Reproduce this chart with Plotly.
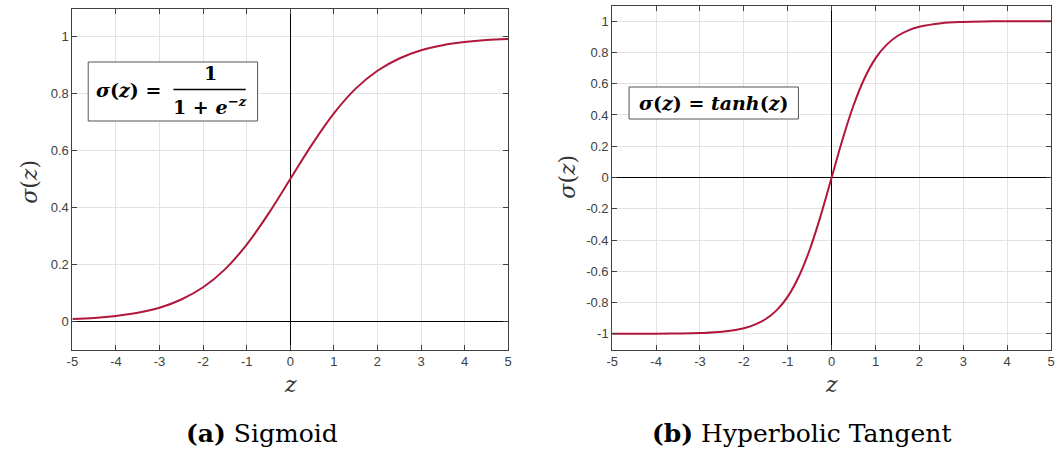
import plotly.graph_objects as go

# ---- data ----
z_sig = [-5, -4.5, -4, -3.5, -3, -2.5, -2, -1.5, -1, -0.5, 0, 0.5, 1, 1.5, 2, 2.5, 3, 3.5, 4, 4.5, 5]
sigmoid_vals = [0.007, 0.011, 0.018, 0.029, 0.047, 0.076, 0.119, 0.182, 0.269, 0.378, 0.5,
                0.622, 0.731, 0.818, 0.881, 0.924, 0.953, 0.971, 0.982, 0.989, 0.993]

z_tanh = [-5, -4, -3.5, -3, -2.5, -2, -1.75, -1.5, -1.25, -1, -0.75, -0.5, -0.25, 0,
          0.25, 0.5, 0.75, 1, 1.25, 1.5, 1.75, 2, 2.5, 3, 3.5, 4, 5]
tanh_vals = [-1.0, -0.999, -0.998, -0.995, -0.987, -0.964, -0.941, -0.905, -0.848, -0.762, -0.635, -0.462, -0.245, 0.0,
             0.245, 0.462, 0.635, 0.762, 0.848, 0.905, 0.941, 0.964, 0.987, 0.995, 0.998, 0.999, 1.0]

x_ticks = [-5, -4, -3, -2, -1, 0, 1, 2, 3, 4, 5]
y_ticks_sig = [0, 0.2, 0.4, 0.6, 0.8, 1]
y_ticks_tanh = [-1, -0.8, -0.6, -0.4, -0.2, 0, 0.2, 0.4, 0.6, 0.8, 1]

W, H = 1059, 450
def px(x): return x / W
def py(y): return 1 - y / H

LINE = "#b0173a"
SERIF = "DejaVu Serif"
SANS = "Liberation Sans"

fig = go.Figure()
fig.add_trace(go.Scatter(x=z_sig, y=sigmoid_vals, mode="lines", line=dict(color=LINE, width=2, shape="spline"),
                         xaxis="x", yaxis="y", showlegend=False))
fig.add_trace(go.Scatter(x=z_tanh, y=tanh_vals, mode="lines", line=dict(color=LINE, width=2, shape="spline"),
                         xaxis="x2", yaxis="y2", showlegend=False))

def xax(domain, anchor):
    return dict(domain=domain, anchor=anchor, range=[-5, 5], tickvals=x_ticks,
                ticktext=[str(t) for t in x_ticks], ticks="inside", ticklen=5, tickcolor="#404040",
                showline=True, linecolor="#404040", linewidth=1, mirror="ticks",
                showgrid=True, gridcolor="#e3e3e3", gridwidth=1,
                zeroline=True, zerolinecolor="black", zerolinewidth=1,
                tickfont=dict(family=SANS, size=13, color="#404040"))

def yax(domain, anchor, rng, ticks):
    return dict(domain=domain, anchor=anchor, range=rng, tickvals=ticks,
                ticktext=[("%g" % t) for t in ticks], ticks="inside", ticklen=5, tickcolor="#404040",
                showline=True, linecolor="#404040", linewidth=1, mirror="ticks",
                showgrid=True, gridcolor="#e3e3e3", gridwidth=1,
                zeroline=True, zerolinecolor="black", zerolinewidth=1,
                tickfont=dict(family=SANS, size=13, color="#404040"))

fig.update_layout(
    width=W, height=H, margin=dict(l=0, r=0, t=0, b=0),
    paper_bgcolor="white", plot_bgcolor="white",
    xaxis=xax([px(67), px(507)], "y"),
    yaxis=yax([py(349.5), py(8.5)], "x", [-0.1, 1.1], y_ticks_sig),
    xaxis2=xax([px(612), px(1055)], "y2"),
    yaxis2=yax([py(349.5), py(5.5)], "x2", [-1.1, 1.1], y_ticks_tanh),
)

ann = []
def text(x, y, s, size, family=SERIF, angle=0, color="black"):
    ann.append(dict(x=px(x), y=py(y), xref="paper", yref="paper", text=s, showarrow=False,
                    font=dict(family=family, size=size, color=color), textangle=angle,
                    xanchor="center", yanchor="middle"))

# axis titles
text(287, 384, "<i>z</i>", 22, color="#333333")
text(833, 384, "<i>z</i>", 22, color="#333333")
text(24, 182, "<i>σ</i>(<i>z</i>)", 22, angle=-90, color="#333333")
text(566, 177, "<i>σ</i>(<i>z</i>)", 22, angle=-90, color="#333333")

# captions
text(258, 433, "<b>(a)</b> Sigmoid", 25)
text(803, 433, "<b>(b)</b> Hyperbolic Tangent", 25)

# formula boxes
text(124, 90, "<b><i>σ</i>(<i>z</i>) =</b>", 19)
text(206, 73, "<b>1</b>", 19)
text(206, 106, "<b>1 + <i>e</i><sup>−<i>z</i></sup></b>", 19)
text(714, 103, "<b><i>σ</i>(<i>z</i>) = <i>tanh</i>(<i>z</i>)</b>", 19)

fig.update_layout(annotations=ann, shapes=[
    dict(type="rect", xref="paper", yref="paper", x0=px(83), x1=px(254), y0=py(121), y1=py(62),
         line=dict(color="#555555", width=1), fillcolor="white", layer="above"),
    dict(type="line", xref="paper", yref="paper", x0=px(169), x1=px(242), y0=py(89.5), y1=py(89.5),
         line=dict(color="black", width=1.5)),
    dict(type="rect", xref="paper", yref="paper", x0=px(629), x1=px(800), y0=py(119), y1=py(87),
         line=dict(color="#555555", width=1), fillcolor="white", layer="above"),
])

fig.write_html("out.html")
